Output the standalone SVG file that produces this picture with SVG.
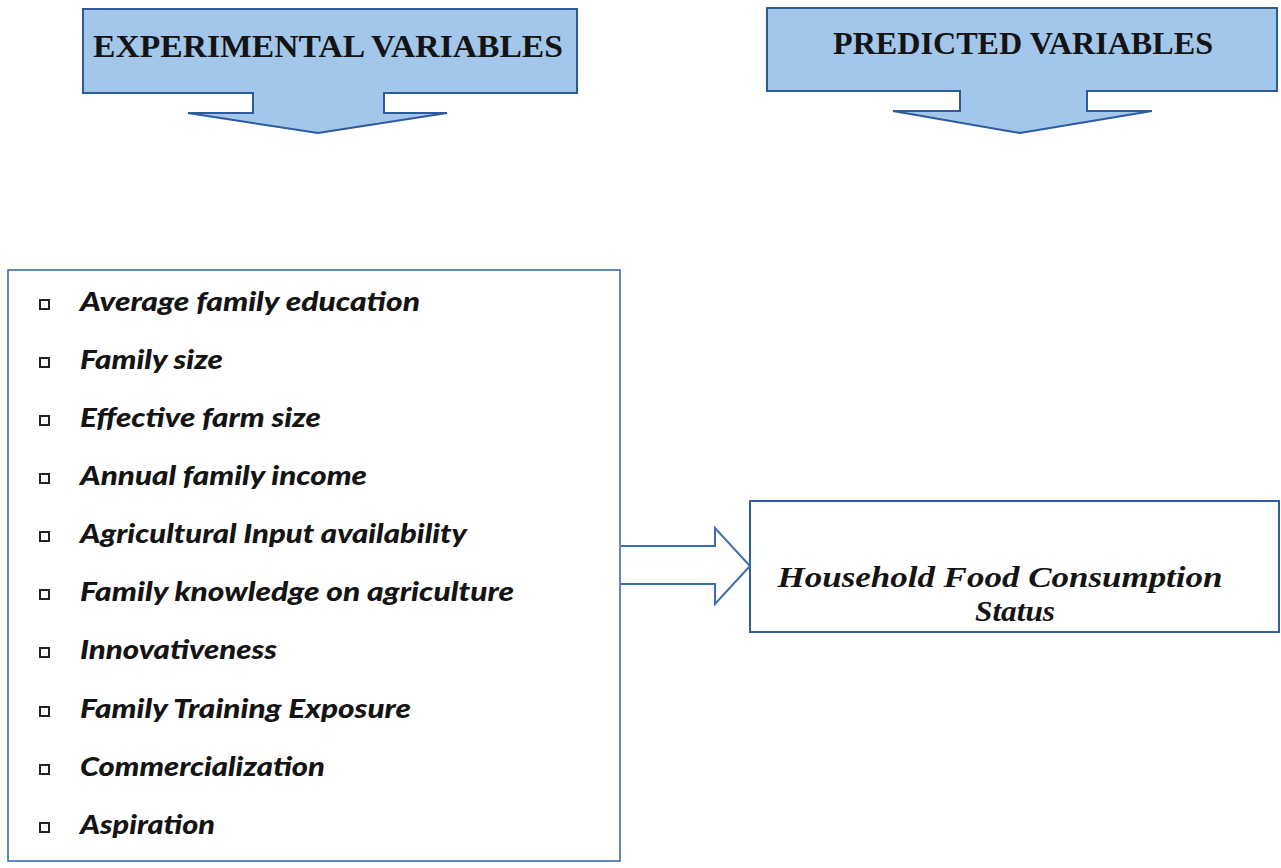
<svg xmlns="http://www.w3.org/2000/svg" width="1281" height="868" viewBox="0 0 1281 868">
<style>
.hdr{fill:#a3c7ea;stroke:#2c5a9c;stroke-width:2}
.htxt{font-family:"Liberation Serif",serif;font-weight:bold;font-size:32px;fill:#141414}
.box{fill:#ffffff;stroke:#3a6db0;stroke-width:1.6}
.item{font-family:Lato,"Open Sans",sans-serif;font-weight:900;font-style:italic;font-size:26px;fill:#141414}
.bul{fill:#ffffff;stroke:#222;stroke-width:2}
.rtxt{font-family:"Liberation Serif",serif;font-weight:bold;font-style:italic;font-size:30px;fill:#141414}
.conn{fill:#ffffff;stroke:#3a6db0;stroke-width:2}
</style>
<rect width="1281" height="868" fill="#ffffff"/>
<g id="header-experimental">
<path class="hdr" d="M83,9 H577 V93 H384 V113 H447 L318,133 L188,113 H253 V93 H83 Z"/>
<text class="htxt" x="328" y="57" text-anchor="middle" textLength="470" lengthAdjust="spacingAndGlyphs">EXPERIMENTAL VARIABLES</text>
</g>
<g id="header-predicted">
<path class="hdr" d="M767,8 H1277 V91 H1087 V111 H1152 L1020,133 L893,111 H960 V91 H767 Z"/>
<text class="htxt" x="1023" y="54" text-anchor="middle" textLength="380" lengthAdjust="spacingAndGlyphs">PREDICTED VARIABLES</text>
</g>
<g id="experimental-variables">
<rect class="box" x="8" y="270" width="612" height="591"/>
<g>
<rect class="bul" x="40" y="300" width="9" height="9"/>
<rect class="bul" x="40" y="358" width="9" height="9"/>
<rect class="bul" x="40" y="416" width="9" height="9"/>
<rect class="bul" x="40" y="474" width="9" height="9"/>
<rect class="bul" x="40" y="532" width="9" height="9"/>
<rect class="bul" x="40" y="590" width="9" height="9"/>
<rect class="bul" x="40" y="648" width="9" height="9"/>
<rect class="bul" x="40" y="707" width="9" height="9"/>
<rect class="bul" x="40" y="765" width="9" height="9"/>
<rect class="bul" x="40" y="823" width="9" height="9"/>
</g>
<text class="item" x="80" y="311" textLength="340" lengthAdjust="spacingAndGlyphs">Average family education</text>
<text class="item" x="80" y="369" textLength="143" lengthAdjust="spacingAndGlyphs">Family size</text>
<text class="item" x="80" y="427" textLength="241" lengthAdjust="spacingAndGlyphs">Effective farm size</text>
<text class="item" x="80" y="485" textLength="287" lengthAdjust="spacingAndGlyphs">Annual family income</text>
<text class="item" x="80" y="543" textLength="387" lengthAdjust="spacingAndGlyphs">Agricultural Input availability</text>
<text class="item" x="80" y="601" textLength="434" lengthAdjust="spacingAndGlyphs">Family knowledge on agriculture</text>
<text class="item" x="80" y="659" textLength="197" lengthAdjust="spacingAndGlyphs">Innovativeness</text>
<text class="item" x="80" y="718" textLength="331" lengthAdjust="spacingAndGlyphs">Family Training Exposure</text>
<text class="item" x="80" y="776" textLength="245" lengthAdjust="spacingAndGlyphs">Commercialization</text>
<text class="item" x="80" y="834" textLength="135" lengthAdjust="spacingAndGlyphs">Aspiration</text>
</g>
<g id="household-food-consumption">
<rect class="box" x="750" y="501" width="529" height="131" style="stroke:#2f5f9f;stroke-width:2"/>
<text class="rtxt" x="1000" y="587" text-anchor="middle" textLength="445" lengthAdjust="spacingAndGlyphs">Household Food Consumption</text>
<text class="rtxt" x="1015" y="621" text-anchor="middle" textLength="80" lengthAdjust="spacingAndGlyphs">Status</text>
</g>
<g id="connectors">
<path class="conn" d="M621,546 H715 V528 L750,566 L715,604 V584 H621"/>
</g>
</svg>
